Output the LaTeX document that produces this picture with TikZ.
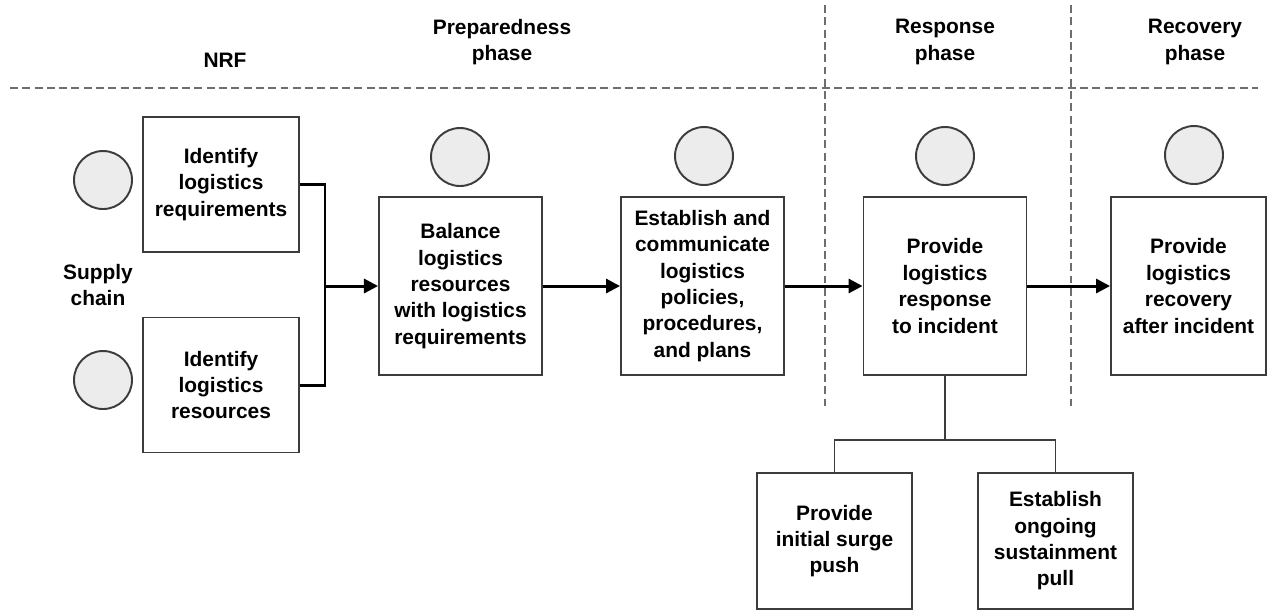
\documentclass[tikz,border=0pt]{standalone}
\usepackage{fontspec}
\setmainfont{Liberation Sans}
\usetikzlibrary{arrows.meta}
\definecolor{edgegray}{RGB}{60,60,60}
\definecolor{dashgray}{RGB}{110,110,110}
\definecolor{hubfill}{RGB}{236,236,236}

\begin{document}
\begin{tikzpicture}[x=0.02cm, y=-0.02cm,
    font=\fontsize{11.9}{15}\selectfont\bfseries,
    task/.style={draw=edgegray, line width=1.1pt, fill=white, align=center, inner sep=0pt},
    hub/.style={circle, draw=edgegray, line width=1.1pt, fill=hubfill, minimum size=1.16cm, inner sep=0pt},
    flow/.style={line width=1.7pt, -{Triangle[length=8pt,width=8pt]}},
    bracket/.style={line width=1.7pt},
    branch/.style={draw=edgegray, line width=1pt},
    divider/.style={dashgray, line width=0.9pt, dash pattern=on 4.5pt off 2.5pt},
    phase/.style={align=center}]
    \useasboundingbox (0,0) rectangle (1267,610);

    % phase dividers
    \draw[divider] (10,88) -- (1258,88);
    \draw[divider] (825,5) -- (825,408);
    \draw[divider] (1071,5) -- (1071,408);

    % headings
    \node[phase] (nrf) at (225,60) {NRF};
    \node[phase] (prep) at (502,42) {Preparedness\\phase};
    \node[phase] (respph) at (945,42) {Response\\phase};
    \node[phase] (recph) at (1195,42) {Recovery\\phase};
    \node[phase] (supply) at (98,285) {Supply\\chain};

    % supply chain tasks
    \node[task, minimum width=3.12cm, minimum height=2.7cm] (req) at (221,184.5) {Identify\\logistics\\requirements};
    \node[task, minimum width=3.12cm, minimum height=2.7cm] (res) at (221,385) {Identify\\logistics\\resources};
    \node[hub] (hubreq) at (103,180) {};
    \node[hub] (hubres) at (103,380) {};

    % main flow
    \node[task, minimum width=3.26cm, minimum height=3.56cm] (bal) at (460.5,286) {Balance\\logistics\\resources\\with logistics\\requirements};
    \node[task, minimum width=3.26cm, minimum height=3.56cm] (plan) at (702.5,286) {Establish and\\communicate\\logistics\\policies,\\procedures,\\and plans};
    \node[task, minimum width=3.26cm, minimum height=3.56cm] (resp) at (945,286) {Provide\\logistics\\response\\to incident};
    \node[task, minimum width=3.1cm, minimum height=3.56cm] (rec) at (1188.5,286) {Provide\\logistics\\recovery\\after incident};
    \node[hub] (hubbal) at (460,157) {};
    \node[hub] (hubplan) at (704,156) {};
    \node[hub] (hubresp) at (945,156) {};
    \node[hub] (hubrec) at (1194,155) {};

    % response sub-tasks
    \node[task, minimum width=3.1cm, minimum height=2.72cm] (surge) at (834.5,541) {Provide\\initial surge\\push};
    \node[task, minimum width=3.1cm, minimum height=2.72cm] (pull) at (1055.5,541) {Establish\\ongoing\\sustainment\\pull};

    % connectors
    \coordinate (join) at (325,286);
    \coordinate (fork) at (945,440);
    \draw[bracket] (req.east) -| (join) |- (res.east);
    \draw[flow] (join) -- (bal.west);
    \draw[flow] (bal) -- (plan);
    \draw[flow] (plan) -- (resp);
    \draw[flow] (resp) -- (rec);
    \draw[branch] (resp.south) -- (fork);
    \draw[branch] (surge.north) |- (fork) -| (pull.north);
\end{tikzpicture}
\end{document}
